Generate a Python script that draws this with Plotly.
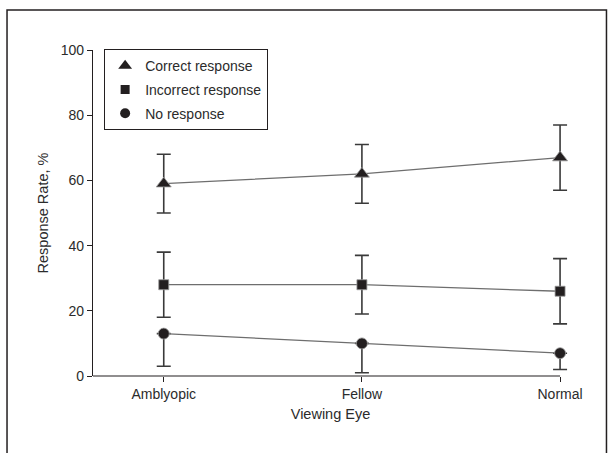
import plotly.graph_objects as go

categories = ["Amblyopic", "Fellow", "Normal"]
correct = [59, 62, 67]
correct_lo = [50, 53, 57]
correct_hi = [68, 71, 77]
incorrect = [28, 28, 26]
incorrect_lo = [18, 19, 16]
incorrect_hi = [38, 37, 36]
noresp = [13, 10, 7]
noresp_lo = [3, 1, 2]
series_names = ["Correct response", "Incorrect response", "No response"]
y_ticks = [0, 20, 40, 60, 80, 100]

FONT = "Liberation Sans, Arial, sans-serif"
TXT = "#2b2b2b"
AX = "#231f20"
xs = list(range(len(categories)))

fig = go.Figure()

def add_series(y, lo, hi, symbol, size, name):
    plus = [h - v for h, v in zip(hi, y)] if hi is not None else [0] * len(y)
    minus = [v - l for v, l in zip(y, lo)]
    fig.add_trace(go.Scatter(
        x=xs, y=y, mode="lines+markers", showlegend=False, cliponaxis=False,
        line=dict(color="#6e6e6e", width=1.3),
        marker=dict(symbol=symbol, size=size, color=AX,
                    line=dict(color="#9a9a9a", width=0.8)),
        error_y=dict(type="data", symmetric=False, array=plus, arrayminus=minus,
                     color="#3a3a3a", thickness=1.6, width=7),
    ))
    fig.add_trace(go.Scatter(
        x=[None], y=[None], mode="markers", name=name, legendgroup=name,
        marker=dict(symbol=symbol, size=size - 1, color=AX),
    ))

add_series(correct, correct_lo, correct_hi, "triangle-up", 13, series_names[0])
add_series(incorrect, incorrect_lo, incorrect_hi, "square", 10, series_names[1])
add_series(noresp, noresp_lo, None, "circle", 11, series_names[2])

fig.update_layout(
    width=611, height=453,
    margin=dict(l=93, r=43, t=50, b=77),
    paper_bgcolor="white", plot_bgcolor="white",
    font=dict(family=FONT, size=14, color=TXT),
    showlegend=True,
    legend=dict(x=0.023, y=1.003, xanchor="left", yanchor="top",
                bordercolor=AX, borderwidth=1.2, bgcolor="white",
                font=dict(family=FONT, size=14, color=TXT),
                itemwidth=30, tracegroupgap=2.5),
    xaxis=dict(range=[-0.357, 2.04], tickvals=xs, ticktext=categories,
               showline=False,
               ticks="outside", ticklen=5, tickcolor=AX,
               showgrid=False, zeroline=False,
               title=dict(text="Viewing Eye", font=dict(size=14.5), standoff=8),
               tickfont=dict(size=14)),
    yaxis=dict(range=[0, 100], tickvals=y_ticks,
               showline=True, linecolor=AX, linewidth=1.2,
               ticks="outside", ticklen=5, tickcolor=AX,
               showgrid=False, zeroline=False,
               title=dict(text="Response Rate, %", font=dict(size=14.5), standoff=8),
               tickfont=dict(size=14)),
    shapes=[
        dict(type="rect", xref="paper", yref="paper",
             x0=-0.181, x1=1.081, y0=-0.3, y1=1.1227,
             line=dict(color=AX, width=1.5), fillcolor="rgba(0,0,0,0)",
             layer="below"),
        # x-axis line ending at the last category
        dict(type="line", xref="x", yref="paper",
             x0=-0.357, x1=xs[-1], y0=0, y1=0,
             line=dict(color=AX, width=1.2), layer="above"),
    ],
)

fig.write_html("out.html", config={"displayModeBar": False},
               post_script="document.body.style.margin='0';document.body.style.padding='0';")
